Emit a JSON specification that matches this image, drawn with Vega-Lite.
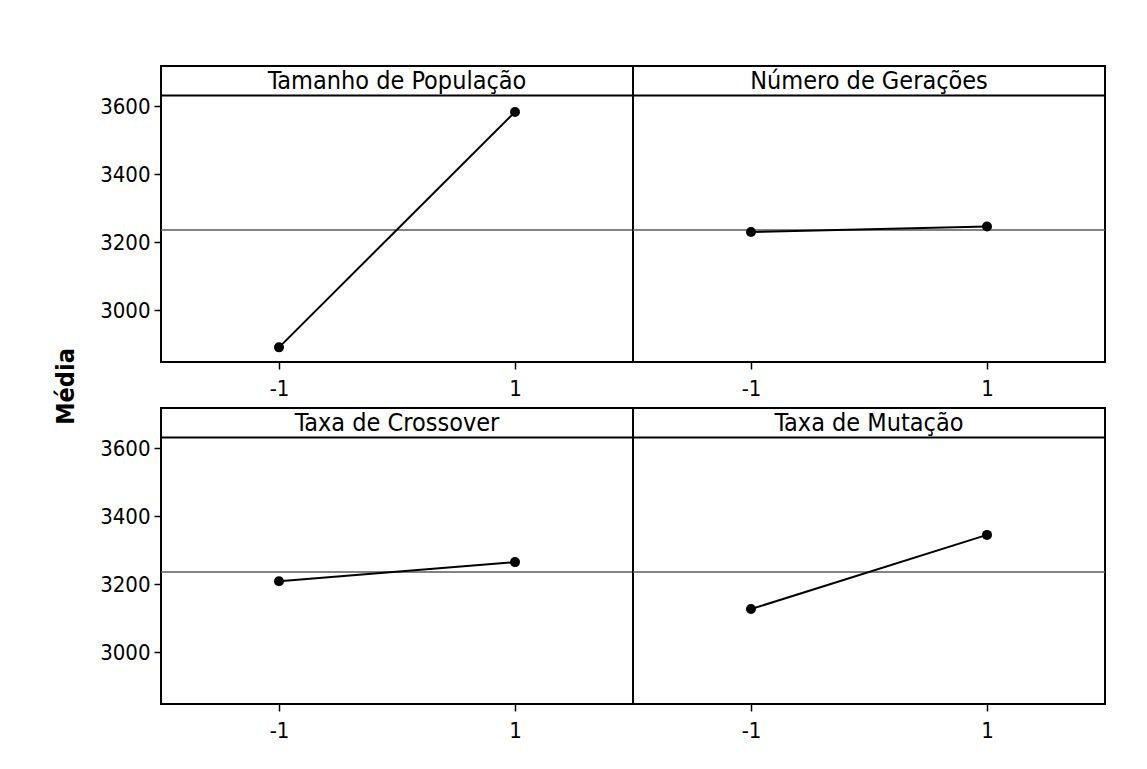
{
  "$schema": "https://vega.github.io/schema/vega-lite/v6.json",
  "background": "white",
  "padding": {"left": 52, "top": 64, "right": 0, "bottom": 0},
  "datasets": {
    "efeitos": [
      {"factor": "Tamanho de População", "level": -1, "media": 2891},
      {"factor": "Tamanho de População", "level": 1, "media": 3583},
      {"factor": "Número de Gerações", "level": -1, "media": 3230},
      {"factor": "Número de Gerações", "level": 1, "media": 3246},
      {"factor": "Taxa de Crossover", "level": -1, "media": 3209},
      {"factor": "Taxa de Crossover", "level": 1, "media": 3265},
      {"factor": "Taxa de Mutação", "level": -1, "media": 3127},
      {"factor": "Taxa de Mutação", "level": 1, "media": 3345}
    ]
  },
  "data": {"name": "efeitos"},
  "columns": 2,
  "spacing": {"row": 46, "column": 0},
  "bounds": "flush",
  "concat": [
    {
      "width": 472, "height": 296,
      "transform": [{"filter": "datum.factor == 'Tamanho de População'"}],
      "layer": [
        {"transform": [{"filter": "datum.level == -1"}], "mark": {"type": "rect", "fill": "white", "stroke": "black", "strokeWidth": 2},
         "encoding": {"x": {"datum": -2, "type": "quantitative"}, "x2": {"datum": 2}, "y": {"datum": 3631, "type": "quantitative"}, "y2": {"datum": 3718}}},
        {"transform": [{"filter": "datum.level == -1"}], "mark": {"type": "text", "fontSize": 25, "font": "DejaVu Sans Condensed, DejaVu Sans", "color": "black"},
         "encoding": {"x": {"datum": 0, "type": "quantitative"}, "y": {"datum": 3673, "type": "quantitative"}, "text": {"field": "factor"}}},
        {"transform": [{"filter": "datum.level == -1"}], "mark": {"type": "rule", "color": "#5a5a5a", "strokeWidth": 1.5},
         "encoding": {"y": {"datum": 3236, "type": "quantitative"}}},
        {"mark": {"type": "line", "color": "black", "strokeWidth": 2},
         "encoding": {"x": {"field": "level", "type": "quantitative"}, "y": {"field": "media", "type": "quantitative"}}},
        {"mark": {"type": "circle", "color": "black", "opacity": 1, "size": 100},
         "encoding": {
           "x": {"field": "level", "type": "quantitative", "scale": {"domain": [-2, 2], "nice": false, "zero": false},
                 "axis": {"title": null, "values": [-1, 1], "labelExpr": "'' + datum.value", "grid": false, "domain": false, "tickColor": "black", "tickSize": 7, "tickWidth": 1.5, "labelFontSize": 22, "labelFont": "DejaVu Sans Condensed, DejaVu Sans", "labelColor": "black", "labelPadding": 9}},
           "y": {"field": "media", "type": "quantitative", "scale": {"domain": [2848, 3718], "nice": false, "zero": false},
                 "axis": {"title": "Média", "titleX": -96, "titleY": 320, "titleAngle": -90, "titleAlign": "center", "titleBaseline": "middle", "titleFontSize": 25, "titleFontWeight": "bold", "titleFont": "DejaVu Sans Condensed, DejaVu Sans", "titleColor": "black",
                          "values": [3000, 3200, 3400, 3600], "format": "d", "grid": false, "domain": false, "tickColor": "black", "tickSize": 7, "tickWidth": 1.5, "labelFontSize": 22, "labelFont": "DejaVu Sans Condensed, DejaVu Sans", "labelColor": "black", "labelPadding": 4}}
         }}
      ]
    },
    {
      "width": 472, "height": 296,
      "transform": [{"filter": "datum.factor == 'Número de Gerações'"}],
      "layer": [
        {"transform": [{"filter": "datum.level == -1"}], "mark": {"type": "rect", "fill": "white", "stroke": "black", "strokeWidth": 2},
         "encoding": {"x": {"datum": -2, "type": "quantitative"}, "x2": {"datum": 2}, "y": {"datum": 3631, "type": "quantitative"}, "y2": {"datum": 3718}}},
        {"transform": [{"filter": "datum.level == -1"}], "mark": {"type": "text", "fontSize": 25, "font": "DejaVu Sans Condensed, DejaVu Sans", "color": "black"},
         "encoding": {"x": {"datum": 0, "type": "quantitative"}, "y": {"datum": 3673, "type": "quantitative"}, "text": {"field": "factor"}}},
        {"transform": [{"filter": "datum.level == -1"}], "mark": {"type": "rule", "color": "#5a5a5a", "strokeWidth": 1.5},
         "encoding": {"y": {"datum": 3236, "type": "quantitative"}}},
        {"mark": {"type": "line", "color": "black", "strokeWidth": 2},
         "encoding": {"x": {"field": "level", "type": "quantitative"}, "y": {"field": "media", "type": "quantitative"}}},
        {"mark": {"type": "circle", "color": "black", "opacity": 1, "size": 100},
         "encoding": {
           "x": {"field": "level", "type": "quantitative", "scale": {"domain": [-2, 2], "nice": false, "zero": false},
                 "axis": {"title": null, "values": [-1, 1], "labelExpr": "'' + datum.value", "grid": false, "domain": false, "tickColor": "black", "tickSize": 7, "tickWidth": 1.5, "labelFontSize": 22, "labelFont": "DejaVu Sans Condensed, DejaVu Sans", "labelColor": "black", "labelPadding": 9}},
           "y": {"field": "media", "type": "quantitative", "scale": {"domain": [2848, 3718], "nice": false, "zero": false},
                 "axis": {"title": null, "labels": false, "ticks": false, "domain": false, "grid": false}}
         }}
      ]
    },
    {
      "width": 472, "height": 296,
      "transform": [{"filter": "datum.factor == 'Taxa de Crossover'"}],
      "layer": [
        {"transform": [{"filter": "datum.level == -1"}], "mark": {"type": "rect", "fill": "white", "stroke": "black", "strokeWidth": 2},
         "encoding": {"x": {"datum": -2, "type": "quantitative"}, "x2": {"datum": 2}, "y": {"datum": 3631, "type": "quantitative"}, "y2": {"datum": 3718}}},
        {"transform": [{"filter": "datum.level == -1"}], "mark": {"type": "text", "fontSize": 25, "font": "DejaVu Sans Condensed, DejaVu Sans", "color": "black"},
         "encoding": {"x": {"datum": 0, "type": "quantitative"}, "y": {"datum": 3673, "type": "quantitative"}, "text": {"field": "factor"}}},
        {"transform": [{"filter": "datum.level == -1"}], "mark": {"type": "rule", "color": "#5a5a5a", "strokeWidth": 1.5},
         "encoding": {"y": {"datum": 3236, "type": "quantitative"}}},
        {"mark": {"type": "line", "color": "black", "strokeWidth": 2},
         "encoding": {"x": {"field": "level", "type": "quantitative"}, "y": {"field": "media", "type": "quantitative"}}},
        {"mark": {"type": "circle", "color": "black", "opacity": 1, "size": 100},
         "encoding": {
           "x": {"field": "level", "type": "quantitative", "scale": {"domain": [-2, 2], "nice": false, "zero": false},
                 "axis": {"title": null, "values": [-1, 1], "labelExpr": "'' + datum.value", "grid": false, "domain": false, "tickColor": "black", "tickSize": 7, "tickWidth": 1.5, "labelFontSize": 22, "labelFont": "DejaVu Sans Condensed, DejaVu Sans", "labelColor": "black", "labelPadding": 9}},
           "y": {"field": "media", "type": "quantitative", "scale": {"domain": [2848, 3718], "nice": false, "zero": false},
                 "axis": {"title": null, "values": [3000, 3200, 3400, 3600], "format": "d", "grid": false, "domain": false, "tickColor": "black", "tickSize": 7, "tickWidth": 1.5, "labelFontSize": 22, "labelFont": "DejaVu Sans Condensed, DejaVu Sans", "labelColor": "black", "labelPadding": 4}}
         }}
      ]
    },
    {
      "width": 472, "height": 296,
      "transform": [{"filter": "datum.factor == 'Taxa de Mutação'"}],
      "layer": [
        {"transform": [{"filter": "datum.level == -1"}], "mark": {"type": "rect", "fill": "white", "stroke": "black", "strokeWidth": 2},
         "encoding": {"x": {"datum": -2, "type": "quantitative"}, "x2": {"datum": 2}, "y": {"datum": 3631, "type": "quantitative"}, "y2": {"datum": 3718}}},
        {"transform": [{"filter": "datum.level == -1"}], "mark": {"type": "text", "fontSize": 25, "font": "DejaVu Sans Condensed, DejaVu Sans", "color": "black"},
         "encoding": {"x": {"datum": 0, "type": "quantitative"}, "y": {"datum": 3673, "type": "quantitative"}, "text": {"field": "factor"}}},
        {"transform": [{"filter": "datum.level == -1"}], "mark": {"type": "rule", "color": "#5a5a5a", "strokeWidth": 1.5},
         "encoding": {"y": {"datum": 3236, "type": "quantitative"}}},
        {"mark": {"type": "line", "color": "black", "strokeWidth": 2},
         "encoding": {"x": {"field": "level", "type": "quantitative"}, "y": {"field": "media", "type": "quantitative"}}},
        {"mark": {"type": "circle", "color": "black", "opacity": 1, "size": 100},
         "encoding": {
           "x": {"field": "level", "type": "quantitative", "scale": {"domain": [-2, 2], "nice": false, "zero": false},
                 "axis": {"title": null, "values": [-1, 1], "labelExpr": "'' + datum.value", "grid": false, "domain": false, "tickColor": "black", "tickSize": 7, "tickWidth": 1.5, "labelFontSize": 22, "labelFont": "DejaVu Sans Condensed, DejaVu Sans", "labelColor": "black", "labelPadding": 9}},
           "y": {"field": "media", "type": "quantitative", "scale": {"domain": [2848, 3718], "nice": false, "zero": false},
                 "axis": {"title": null, "labels": false, "ticks": false, "domain": false, "grid": false}}
         }}
      ]
    }
  ],
  "config": {
    "view": {"stroke": "black", "strokeWidth": 2}
  }
}
